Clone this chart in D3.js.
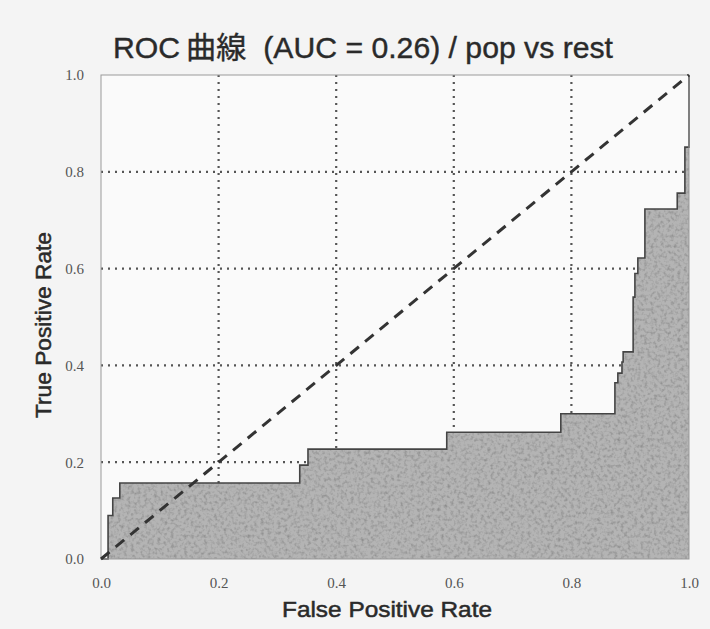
<!DOCTYPE html>
<html>
<head>
<meta charset="utf-8">
<script src="https://cdn.jsdelivr.net/npm/d3@7"></script>
<style>
  body { margin: 0; background: #f4f4f4; }
  svg { display: block; }
  text { white-space: pre; }
</style>
</head>
<body>
<script>
// ROC points (corners of the step curve)
var fpr = [0, 0.012, 0.012, 0.020, 0.020, 0.032, 0.032, 0.338, 0.338, 0.352, 0.352,
  0.588, 0.588, 0.782, 0.782, 0.874, 0.874, 0.879, 0.879, 0.886, 0.886, 0.888, 0.888,
  0.905, 0.905, 0.908, 0.908, 0.913, 0.913, 0.925, 0.925, 0.980, 0.980, 0.993, 0.993, 1.0, 1.0];
var tpr = [0, 0, 0.090, 0.090, 0.126, 0.126, 0.157, 0.157, 0.194, 0.194, 0.227,
  0.227, 0.262, 0.262, 0.300, 0.300, 0.364, 0.364, 0.384, 0.384, 0.407, 0.407, 0.428,
  0.428, 0.541, 0.541, 0.590, 0.590, 0.622, 0.622, 0.723, 0.723, 0.756, 0.756, 0.851, 0.851, 1.0];
var ticks = [0, 0.2, 0.4, 0.6, 0.8, 1.0];
var titleText = 'ROC\u2009曲線  (AUC = 0.26) / pop vs rest';

var W = 710, H = 629;
var m = { left: 101, right: 21, top: 75, bottom: 70 };
var pw = W - m.left - m.right, ph = H - m.top - m.bottom;
var sans = '"Liberation Sans Narrow", "Liberation Sans", Arial, "Noto Sans CJK JP", sans-serif';

var svg = d3.select('body').append('svg')
  .attr('width', W)
  .attr('height', H);

// grainy texture for the filled area, like the scanned print
var defs = svg.append('defs');
var grain = defs.append('filter').attr('id', 'grain')
  .attr('x', 0).attr('y', 0).attr('width', 1).attr('height', 1);
grain.append('feTurbulence').attr('type', 'fractalNoise')
  .attr('baseFrequency', 0.3).attr('numOctaves', 2).attr('seed', 3).attr('result', 'noise');
grain.append('feColorMatrix').attr('in', 'noise').attr('type', 'matrix')
  .attr('values', '0 0 0 0 0  0 0 0 0 0  0 0 0 0 0  0 0 0 -0.9 0.5')
  .attr('result', 'dark');
grain.append('feComposite').attr('in', 'dark').attr('in2', 'SourceGraphic')
  .attr('operator', 'in').attr('result', 'darkIn');
grain.append('feMerge').selectAll('feMergeNode').data(['SourceGraphic', 'darkIn'])
  .enter().append('feMergeNode').attr('in', function(d) { return d; });

svg.append('rect').attr('width', W).attr('height', H).attr('fill', '#f4f4f4');

var x = d3.scaleLinear().domain([0, 1]).range([0, pw]);
var y = d3.scaleLinear().domain([0, 1]).range([ph, 0]);

var g = svg.append('g').attr('transform', 'translate(' + m.left + ',' + m.top + ')');

g.append('rect').attr('width', pw).attr('height', ph).attr('fill', '#fafafa');

// grid
var grid = g.append('g').attr('class', 'grid');
grid.selectAll('line.vx').data(ticks.slice(1, 5)).enter().append('line')
  .attr('x1', function(d) { return x(d); }).attr('x2', function(d) { return x(d); })
  .attr('y1', 0).attr('y2', ph);
grid.selectAll('line.hy').data(ticks.slice(1, 5)).enter().append('line')
  .attr('y1', function(d) { return y(d); }).attr('y2', function(d) { return y(d); })
  .attr('x1', 0).attr('x2', pw);
grid.selectAll('line')
  .attr('stroke', '#555')
  .attr('stroke-width', 2.2)
  .attr('stroke-dasharray', '2,5');

// area under ROC
var pts = fpr.map(function(d, i) { return [d, tpr[i]]; });
var area = d3.area()
  .x(function(d) { return x(d[0]); })
  .y0(y(0))
  .y1(function(d) { return y(d[1]); });
var line = d3.line()
  .x(function(d) { return x(d[0]); })
  .y(function(d) { return y(d[1]); });

g.append('path').datum(pts).attr('d', area).attr('fill', '#b4b4b4').attr('filter', 'url(#grain)');
g.append('path').datum(pts).attr('d', line)
  .attr('fill', 'none').attr('stroke', '#444').attr('stroke-width', 1.6);

// frame
g.append('rect').attr('width', pw).attr('height', ph)
  .attr('fill', 'none').attr('stroke', '#999').attr('stroke-width', 1);

// chance line
g.append('path').datum([[0, 0], [1, 1]]).attr('d', line)
  .attr('fill', 'none').attr('stroke', '#333')
  .attr('stroke-width', 3).attr('stroke-dasharray', '11,8');

// axes
var xAxis = g.append('g').attr('transform', 'translate(0,' + ph + ')')
  .call(d3.axisBottom(x).tickValues(ticks).tickFormat(d3.format('.1f')).tickSize(0).tickPadding(18));
var yAxis = g.append('g')
  .call(d3.axisLeft(y).tickValues(ticks).tickFormat(d3.format('.1f')).tickSize(0).tickPadding(17));
[xAxis, yAxis].forEach(function(a) {
  a.select('.domain').remove();
  a.selectAll('text')
    .attr('font-family', '"Liberation Serif", "DejaVu Serif", serif')
    .attr('font-size', 15)
    .attr('fill', '#555');
});

// labels
svg.append('text')
  .attr('x', 363).attr('y', 58)
  .attr('text-anchor', 'middle')
  .attr('font-family', sans)
  .attr('font-size', 30)
  .attr('fill', '#2a2a2a')
  .attr('stroke', '#2a2a2a').attr('stroke-width', 0.4)
  .attr('textLength', 500).attr('lengthAdjust', 'spacingAndGlyphs')
  .text(titleText);

svg.append('text')
  .attr('x', 387).attr('y', 617)
  .attr('text-anchor', 'middle')
  .attr('font-family', sans)
  .attr('font-size', 22)
  .attr('fill', '#2a2a2a')
  .attr('stroke', '#2a2a2a').attr('stroke-width', 0.5)
  .attr('textLength', 210).attr('lengthAdjust', 'spacingAndGlyphs')
  .text('False Positive Rate');

svg.append('text')
  .attr('transform', 'translate(51,325) rotate(-90)')
  .attr('text-anchor', 'middle')
  .attr('font-family', sans)
  .attr('font-size', 22)
  .attr('fill', '#2a2a2a')
  .attr('stroke', '#2a2a2a').attr('stroke-width', 0.5)
  .attr('textLength', 186).attr('lengthAdjust', 'spacingAndGlyphs')
  .text('True Positive Rate');
</script>
</body>
</html>
